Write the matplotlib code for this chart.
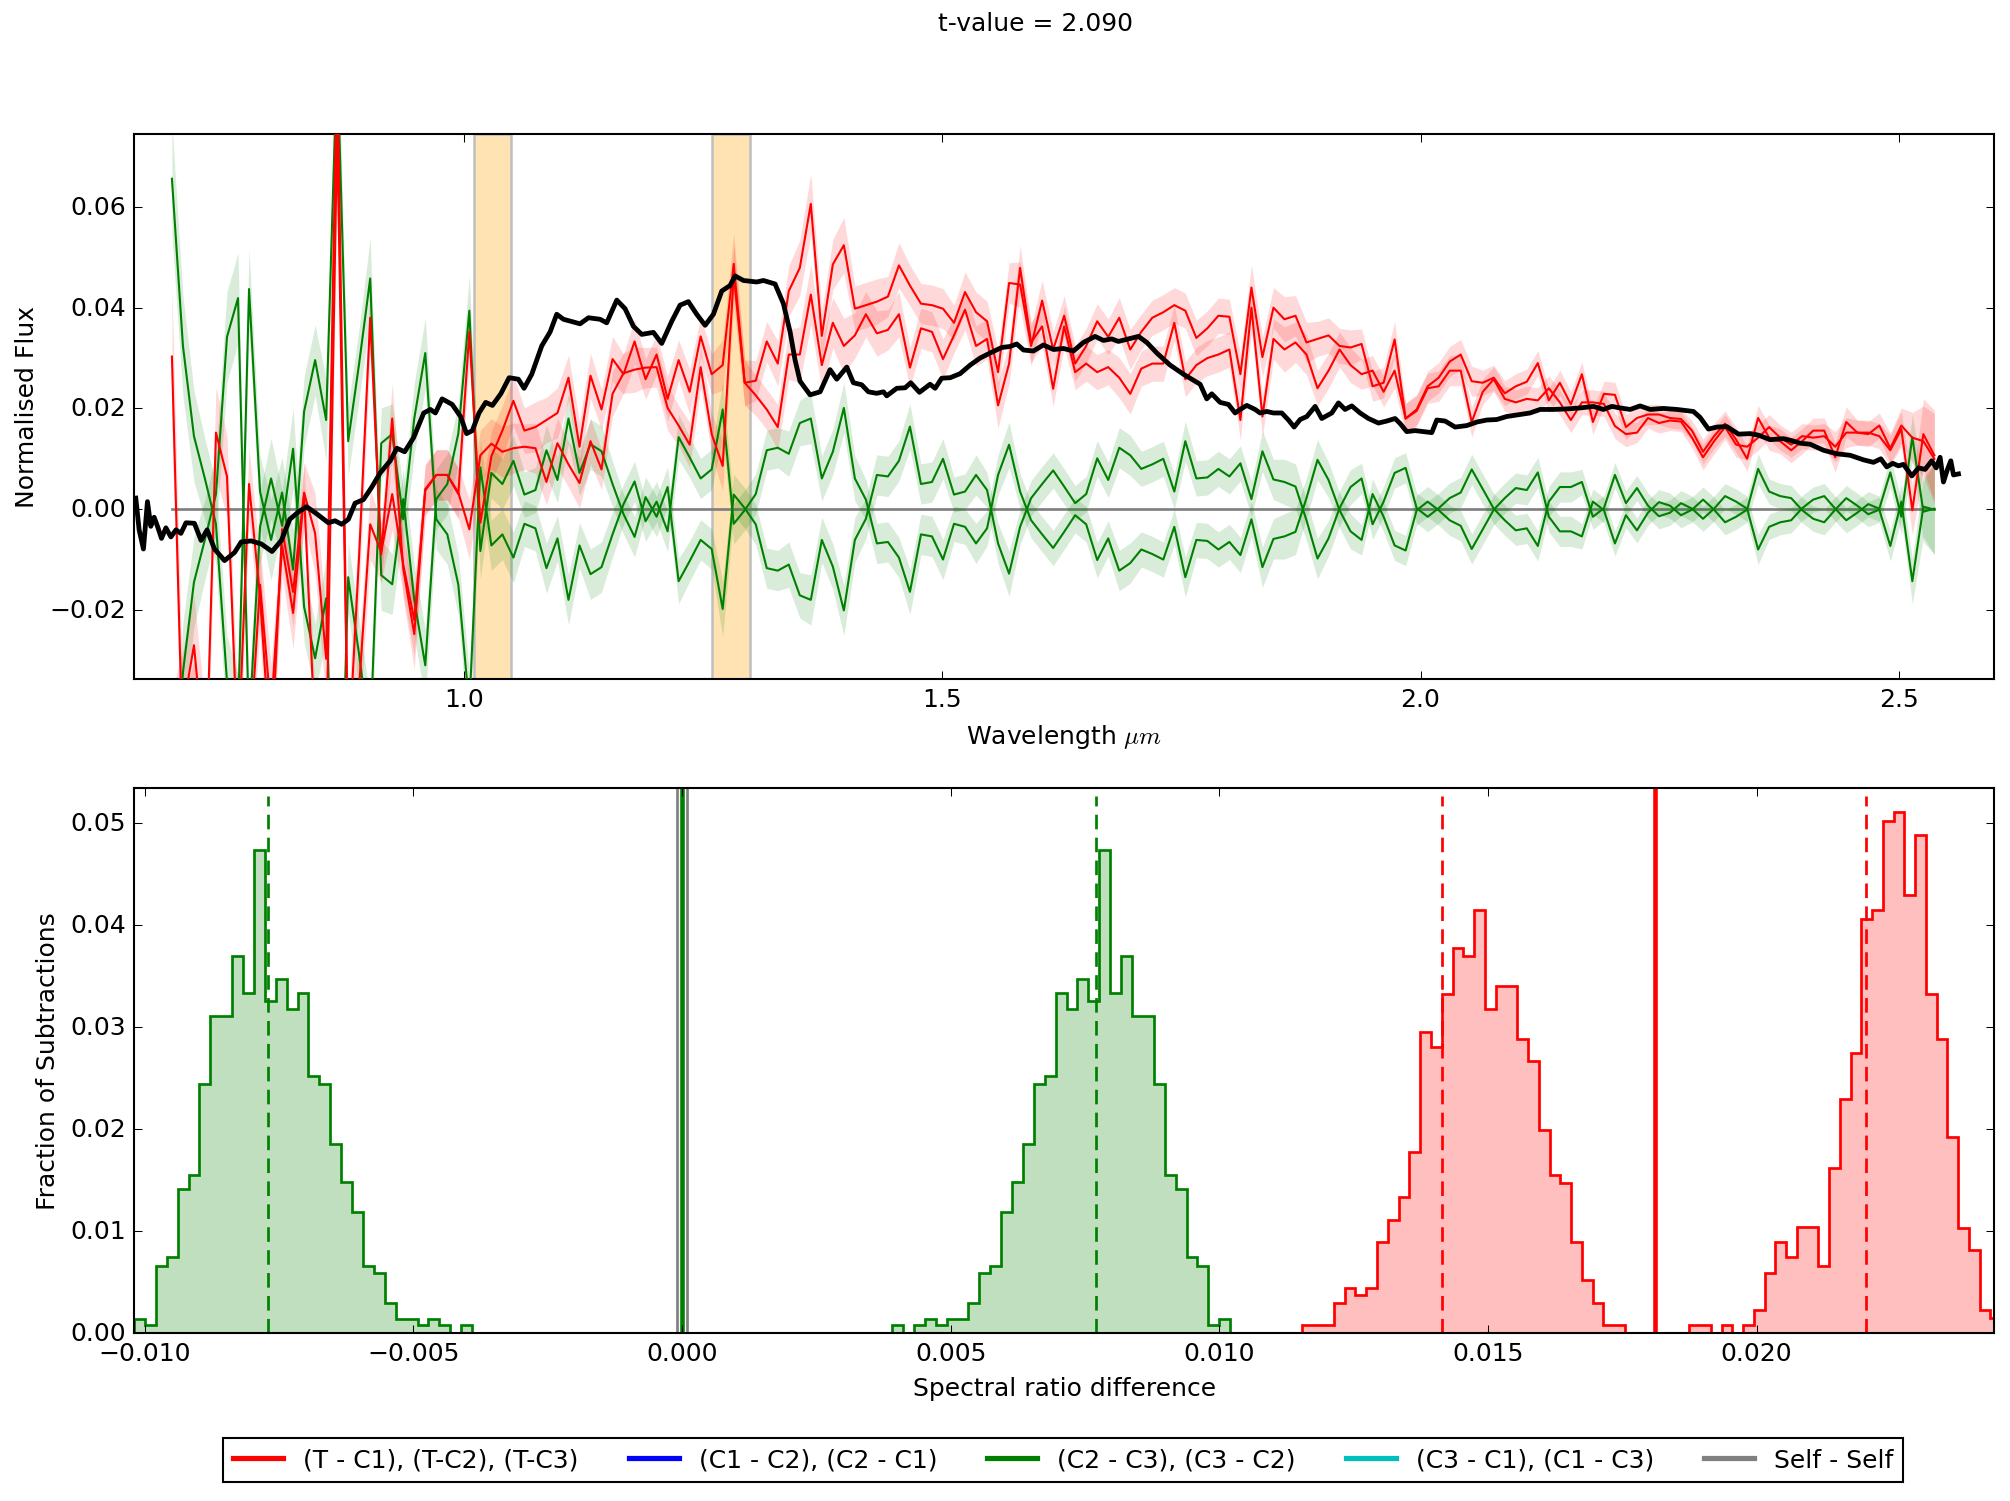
import matplotlib
matplotlib.use("Agg")
import matplotlib.pyplot as plt
import numpy as np
from matplotlib.lines import Line2D

plt.style.use("classic")
plt.rcParams["font.family"] = ["DejaVu Sans"]
plt.rcParams["figure.facecolor"] = "white"

# ---- top panel: binned spectral ratio differences ----
bin_first, bin_last, n_bins = 0.694, 2.5375, 161
wl = np.linspace(bin_first, bin_last, n_bins)

# T - C differences (two visible series)
tc_a = [0.0303, -0.0500, -0.0400, -0.0600, 0.0152, 0.0065, -0.0500, 0.0050, -0.0174, -0.0500,
        -0.0040, -0.0164, 0.0033, -0.0048, -0.0297, 0.0900, -0.0500, -0.0090, 0.0380, -0.0090,
        0.0180, -0.0118, -0.0248, 0.0040, 0.0068, 0.0068, 0.0030, 0.0352, -0.0027, 0.0105, 0.0156,
        0.0215, 0.0156, 0.0163, 0.0177, 0.0191, 0.0261, 0.0124, 0.0265, 0.0198, 0.0298,
        0.0268, 0.0333, 0.0258, 0.0307, 0.0219, 0.0296, 0.0233, 0.0343, 0.0268, 0.0286,
        0.0487, 0.0251, 0.0255, 0.0333, 0.0289, 0.0433, 0.0479, 0.0606, 0.0344, 0.0486,
        0.0524, 0.0398, 0.0405,
        0.0412, 0.0422, 0.0484, 0.0444, 0.0408, 0.0405, 0.0398, 0.0370, 0.0431, 0.0391,
        0.0373, 0.0272, 0.0449, 0.0446, 0.0324, 0.0414, 0.0317, 0.0384, 0.0289, 0.0324,
        0.0373, 0.0342, 0.0380, 0.0317, 0.0352, 0.0380, 0.0391, 0.0405, 0.0394, 0.0340,
        0.0359, 0.0384, 0.0382, 0.0268, 0.0440,
        0.0302, 0.0400, 0.0377, 0.0384, 0.0331, 0.0338, 0.0345, 0.0324, 0.0321, 0.0328,
        0.0244, 0.0251, 0.0337, 0.0180, 0.0198, 0.0244, 0.0261, 0.0293, 0.0307, 0.0254,
        0.0251, 0.0261, 0.0230, 0.0244, 0.0253, 0.0290, 0.0216, 0.0251, 0.0208, 0.0268,
        0.0173, 0.0229, 0.0227,
        0.0163, 0.0181, 0.0188, 0.0188, 0.0181, 0.0179, 0.0156, 0.0114, 0.0145, 0.0170,
        0.0138, 0.0100, 0.0181, 0.0142, 0.0135, 0.0117, 0.0135, 0.0156, 0.0156, 0.0103,
        0.0173, 0.0152, 0.0152, 0.0145, 0.0117, 0.0159, -0.0002, 0.0149, 0.0107]
tc_b = [-0.0500, -0.0400, -0.0270, -0.0500, -0.0450, -0.0600, -0.0400, -0.0500, -0.0150, -0.0400,
        -0.0072, -0.0206, 0.0028, -0.0450, -0.0500, 0.0750, -0.0500, -0.0350, -0.0030, -0.0085,
        0.0030, -0.0110, -0.0220, 0.0037, 0.0068, 0.0068, 0.0033, -0.0040, 0.0107, 0.0130, 0.0114,
        0.0121, 0.0124, 0.0121, 0.0054, 0.0131, 0.0089, 0.0052, 0.0135, 0.0079, 0.0229,
        0.0270, 0.0277, 0.0281, 0.0282, 0.0201, 0.0166, 0.0128, 0.0282, 0.0149, 0.0086,
        0.0465, 0.0251, 0.0226, 0.0198, 0.0163, 0.0307, 0.0307, 0.0426, 0.0286, 0.0370,
        0.0324, 0.0345, 0.0387,
        0.0349, 0.0356, 0.0387, 0.0281, 0.0359, 0.0352, 0.0298, 0.0345, 0.0396, 0.0324,
        0.0338, 0.0206, 0.0289, 0.0479, 0.0331, 0.0363, 0.0239, 0.0363, 0.0272, 0.0289,
        0.0272, 0.0282, 0.0261, 0.0229, 0.0279, 0.0289, 0.0289, 0.0370, 0.0258, 0.0286,
        0.0300, 0.0307, 0.0317, 0.0177, 0.0400,
        0.0184, 0.0338, 0.0317, 0.0331, 0.0307, 0.0240, 0.0275, 0.0317, 0.0286, 0.0268,
        0.0275, 0.0233, 0.0275, 0.0180, 0.0195, 0.0240, 0.0244, 0.0275, 0.0275, 0.0173,
        0.0233, 0.0258, 0.0219, 0.0212, 0.0219, 0.0216, 0.0240, 0.0212, 0.0177, 0.0212,
        0.0212, 0.0209, 0.0165,
        0.0149, 0.0152, 0.0181, 0.0171, 0.0176, 0.0174, 0.0142, 0.0103, 0.0135, 0.0163,
        0.0128, 0.0124, 0.0142, 0.0163, 0.0142, 0.0128, 0.0145, 0.0142, 0.0145, 0.0124,
        0.0152, 0.0152, 0.0149, 0.0166, 0.0121, 0.0166, 0.0142, 0.0135, 0.0100]
tc_err = [0.0140, 0.0120, 0.0100, 0.0110, 0.0090, 0.0080, 0.0100, 0.0070, 0.0080, 0.0090,
          0.0060, 0.0070, 0.0060, 0.0080, 0.0090, 0.0120, 0.0100, 0.0080, 0.0070, 0.0060,
          0.0070, 0.0060, 0.0070, 0.0050, 0.0050, 0.0050, 0.0050, 0.0060, 0.0050, 0.0050, 0.0050,
          0.0050, 0.0045, 0.0050, 0.0045, 0.0050, 0.0045, 0.0050, 0.0045, 0.0040, 0.0045,
          0.0040, 0.0045, 0.0040, 0.0040, 0.0045, 0.0040, 0.0045, 0.0040, 0.0040, 0.0050,
          0.0060, 0.0045, 0.0040, 0.0040, 0.0045, 0.0050, 0.0055, 0.0060, 0.0050, 0.0050,
          0.0055, 0.0045, 0.0045,
          0.0045, 0.0040, 0.0045, 0.0040, 0.0040, 0.0040, 0.0040, 0.0035, 0.0040, 0.0040,
          0.0040, 0.0045, 0.0040, 0.0045, 0.0040, 0.0040, 0.0035, 0.0040, 0.0035, 0.0035,
          0.0035, 0.0035, 0.0040, 0.0040, 0.0035, 0.0035, 0.0035, 0.0035, 0.0035, 0.0035,
          0.0035, 0.0035, 0.0035, 0.0040, 0.0045,
          0.0040, 0.0040, 0.0045, 0.0040, 0.0040, 0.0035, 0.0035, 0.0035, 0.0035, 0.0030,
          0.0030, 0.0030, 0.0035, 0.0030, 0.0030, 0.0030, 0.0030, 0.0030, 0.0030, 0.0030,
          0.0025, 0.0025, 0.0025, 0.0025, 0.0025, 0.0025, 0.0025, 0.0025, 0.0025, 0.0025,
          0.0025, 0.0025, 0.0025,
          0.0025, 0.0020, 0.0020, 0.0020, 0.0020, 0.0020, 0.0020, 0.0025, 0.0025, 0.0025,
          0.0025, 0.0025, 0.0025, 0.0025, 0.0025, 0.0025, 0.0025, 0.0025, 0.0025, 0.0030,
          0.0030, 0.0025, 0.0025, 0.0025, 0.0030, 0.0035, 0.0050, 0.0070, 0.0090]

# C2 - C3 (C3 - C2 is its mirror)
cc_23 = [0.0656, 0.0324, 0.0145, 0.0060, -0.0030, -0.0342, -0.0419, 0.0437, 0.0035, -0.0061,
         0.0033, -0.0120, 0.0194, 0.0296, 0.0177, 0.0900, 0.0135, 0.0290, 0.0458, -0.0131,
         -0.0149, 0.0020, -0.0180, -0.0310, 0.0020, 0.0050, 0.0150, 0.0394, -0.0083, 0.0072, 0.0050,
         0.0096, 0.0029, 0.0038, 0.0117, 0.0058, 0.0180, 0.0072, 0.0129, 0.0115, 0.0050,
         -0.0010, -0.0055, 0.0024, -0.0015, 0.0044, -0.0143, -0.0103, -0.0061, -0.0079, -0.0198,
         0.0029, 0.0002, -0.0030, -0.0117, -0.0122, -0.0110, -0.0171, -0.0180, -0.0061, -0.0114,
         -0.0201, -0.0061, -0.0019,
         0.0068, 0.0065, 0.0096, 0.0164, 0.0050, 0.0054, 0.0100, 0.0029, 0.0035, 0.0068,
         0.0038, -0.0068, -0.0128, -0.0035, 0.0022, 0.0050, 0.0077, 0.0045, 0.0012, 0.0030,
         0.0101, 0.0058, 0.0122, 0.0107, 0.0080, 0.0089, 0.0100, 0.0035, 0.0135, 0.0061,
         0.0063, 0.0080, 0.0065, 0.0091, 0.0020,
         0.0115, 0.0059, 0.0054, 0.0045, -0.0022, -0.0098, -0.0058, 0.0002, 0.0044, 0.0061,
         -0.0030, 0.0015, 0.0072, 0.0082, 0.0002, -0.0015, 0.0002, 0.0022, 0.0033, 0.0079,
         0.0040, 0.0001, -0.0022, -0.0042, -0.0038, -0.0073, 0.0015, 0.0044, 0.0044, 0.0054,
         -0.0015, 0.0002, 0.0068,
         0.0012, 0.0042, 0.0007, -0.0014, -0.0007, 0.0012, 0.0001, -0.0019, 0.0001, 0.0026,
         0.0015, 0.0001, -0.0080, -0.0035, -0.0026, -0.0022, 0.0002, 0.0019, 0.0026, 0.0001,
         -0.0022, -0.0007, 0.0010, 0.0001, 0.0073, -0.0015, 0.0143, -0.0005, 0.0001]
cc_err = [0.0110, 0.0100, 0.0090, 0.0080, 0.0080, 0.0090, 0.0090, 0.0080, 0.0070, 0.0080,
          0.0070, 0.0080, 0.0070, 0.0070, 0.0080, 0.0100, 0.0070, 0.0070, 0.0080, 0.0070,
          0.0060, 0.0060, 0.0070, 0.0070, 0.0060, 0.0060, 0.0060, 0.0070, 0.0055, 0.0050, 0.0050,
          0.0050, 0.0045, 0.0045, 0.0050, 0.0045, 0.0050, 0.0045, 0.0050, 0.0050, 0.0045,
          0.0040, 0.0040, 0.0040, 0.0040, 0.0040, 0.0045, 0.0040, 0.0040, 0.0040, 0.0055,
          0.0040, 0.0040, 0.0040, 0.0040, 0.0040, 0.0045, 0.0045, 0.0050, 0.0045, 0.0045,
          0.0050, 0.0045, 0.0040,
          0.0040, 0.0040, 0.0040, 0.0045, 0.0040, 0.0040, 0.0040, 0.0035, 0.0035, 0.0040,
          0.0035, 0.0040, 0.0045, 0.0035, 0.0035, 0.0035, 0.0035, 0.0035, 0.0035, 0.0035,
          0.0035, 0.0035, 0.0040, 0.0040, 0.0035, 0.0035, 0.0035, 0.0035, 0.0040, 0.0035,
          0.0035, 0.0035, 0.0035, 0.0035, 0.0035,
          0.0040, 0.0040, 0.0045, 0.0045, 0.0040, 0.0040, 0.0035, 0.0035, 0.0035, 0.0030,
          0.0030, 0.0030, 0.0030, 0.0030, 0.0030, 0.0030, 0.0030, 0.0030, 0.0030, 0.0030,
          0.0030, 0.0030, 0.0030, 0.0030, 0.0030, 0.0030, 0.0030, 0.0030, 0.0030, 0.0025,
          0.0025, 0.0025, 0.0025,
          0.0025, 0.0025, 0.0025, 0.0025, 0.0025, 0.0025, 0.0025, 0.0025, 0.0025, 0.0025,
          0.0025, 0.0025, 0.0030, 0.0025, 0.0025, 0.0025, 0.0025, 0.0025, 0.0025, 0.0025,
          0.0025, 0.0025, 0.0025, 0.0025, 0.0030, 0.0035, 0.0045, 0.0060, 0.0090]
self_diff = np.zeros(n_bins)   # self - self is identically zero

# reference target spectrum (black)
ref_wl = [0.6562, 0.6597, 0.6642, 0.6684, 0.6719, 0.6754, 0.6789, 0.6831, 0.6877, 0.6929,
          0.6982, 0.7034, 0.7087, 0.7175, 0.7245, 0.7308, 0.7385, 0.7490, 0.7595, 0.7665,
          0.7770, 0.7875, 0.7987, 0.8085, 0.8173, 0.8260, 0.8348, 0.8453, 0.8576, 0.8646,
          0.8716, 0.8786, 0.8856, 0.8943, 0.9031, 0.9118, 0.9223, 0.9293, 0.9374, 0.9468,
          0.9574, 0.9644, 0.9696, 0.9766, 0.9871, 0.9959, 1.0022, 1.0082, 1.0152, 1.0222,
          1.0292, 1.0380, 1.0467, 1.0564, 1.0623, 1.0704, 1.0808, 1.0896, 1.0965, 1.1035,
          1.1209, 1.1297, 1.1418, 1.1488, 1.1593, 1.1680, 1.1767, 1.1854, 1.1976, 1.2063,
          1.2168, 1.2255, 1.2342, 1.2429, 1.2517, 1.2604, 1.2691, 1.2778, 1.2831, 1.2918,
          1.3057, 1.3127, 1.3249, 1.3336, 1.3406, 1.3458, 1.3510, 1.3615, 1.3720, 1.3824,
          1.3894, 1.3999, 1.4068, 1.4155, 1.4225, 1.4312, 1.4382, 1.4417, 1.4522, 1.4609,
          1.4668, 1.4759, 1.4870, 1.4923, 1.4992, 1.5080, 1.5184, 1.5289, 1.5393, 1.5498,
          1.5620, 1.5707, 1.5777, 1.5847, 1.5951, 1.6056, 1.6161, 1.6265, 1.6370, 1.6474,
          1.6596, 1.6683, 1.6770, 1.6840, 1.6945, 1.7050, 1.7137, 1.7242, 1.7381, 1.7520,
          1.7608, 1.7695, 1.7764, 1.7817, 1.7904, 1.7991, 1.8061, 1.8113, 1.8183, 1.8270,
          1.8322, 1.8392, 1.8462, 1.8549, 1.8619, 1.8678, 1.8741, 1.8811, 1.8898, 1.8967,
          1.9072, 1.9142, 1.9211, 1.9281, 1.9368, 1.9456, 1.9560, 1.9647, 1.9734, 1.9787,
          1.9856, 1.9943, 2.0030, 2.0118, 2.0170, 2.0257, 2.0362, 2.0484, 2.0589, 2.0693,
          2.0798, 2.0902, 2.1007, 2.1146, 2.1251, 2.1390, 2.1530, 2.1669, 2.1809, 2.1913,
          2.2001, 2.2088, 2.2193, 2.2297, 2.2402, 2.2541, 2.2681, 2.2855, 2.2925, 2.3012,
          2.3099, 2.3204, 2.3326, 2.3448, 2.3535, 2.3657, 2.3797, 2.3884, 2.3971, 2.4075,
          2.4215, 2.4354, 2.4494, 2.4633, 2.4738, 2.4815, 2.4877, 2.4940, 2.4999, 2.5052,
          2.5139, 2.5209, 2.5278, 2.5348, 2.5394, 2.5435, 2.5470, 2.5512, 2.5547, 2.5575,
          2.5627]
ref_flux = [0.0022, -0.0041, -0.0079, 0.0015, -0.0034, -0.0016, -0.0034, -0.0058, -0.0037, -0.0055,
            -0.0041, -0.0048, -0.0027, -0.0028, -0.0062, -0.0041, -0.0079, -0.0102, -0.0086, -0.0065,
            -0.0063, -0.0069, -0.0084, -0.0062, -0.0020, -0.0006, 0.0005, -0.0009, -0.0027, -0.0023,
            -0.0030, -0.0020, 0.0012, 0.0019, 0.0044, 0.0072, 0.0096, 0.0121, 0.0114, 0.0142,
            0.0191, 0.0198, 0.0191, 0.0219, 0.0208, 0.0184, 0.0150, 0.0156, 0.0191, 0.0212,
            0.0206, 0.0229, 0.0261, 0.0258, 0.0240, 0.0268, 0.0324, 0.0352, 0.0387, 0.0377,
            0.0368, 0.0380, 0.0377, 0.0370, 0.0415, 0.0398, 0.0363, 0.0347, 0.0351, 0.0329,
            0.0373, 0.0405, 0.0412, 0.0387, 0.0365, 0.0387, 0.0433, 0.0444, 0.0463, 0.0454,
            0.0451, 0.0454, 0.0447, 0.0408, 0.0352, 0.0296, 0.0254, 0.0227, 0.0233, 0.0277,
            0.0258, 0.0282, 0.0251, 0.0247, 0.0233, 0.0230, 0.0233, 0.0225, 0.0240, 0.0241,
            0.0251, 0.0232, 0.0248, 0.0240, 0.0260, 0.0261, 0.0269, 0.0286, 0.0300, 0.0310,
            0.0321, 0.0323, 0.0328, 0.0316, 0.0314, 0.0326, 0.0317, 0.0319, 0.0314, 0.0331,
            0.0343, 0.0335, 0.0338, 0.0333, 0.0338, 0.0343, 0.0331, 0.0310, 0.0286, 0.0268,
            0.0258, 0.0248, 0.0219, 0.0229, 0.0212, 0.0208, 0.0191, 0.0198, 0.0206, 0.0198,
            0.0191, 0.0194, 0.0191, 0.0191, 0.0177, 0.0163, 0.0178, 0.0184, 0.0204, 0.0180,
            0.0191, 0.0211, 0.0198, 0.0205, 0.0191, 0.0180, 0.0171, 0.0175, 0.0180, 0.0170,
            0.0154, 0.0156, 0.0154, 0.0152, 0.0177, 0.0175, 0.0163, 0.0166, 0.0173, 0.0177,
            0.0178, 0.0184, 0.0187, 0.0191, 0.0198, 0.0198, 0.0199, 0.0201, 0.0204, 0.0198,
            0.0204, 0.0201, 0.0198, 0.0205, 0.0198, 0.0200, 0.0198, 0.0194, 0.0182, 0.0159,
            0.0163, 0.0164, 0.0149, 0.0150, 0.0147, 0.0138, 0.0140, 0.0136, 0.0131, 0.0129,
            0.0117, 0.0110, 0.0107, 0.0098, 0.0093, 0.0100, 0.0084, 0.0091, 0.0086, 0.0089,
            0.0066, 0.0082, 0.0079, 0.0096, 0.0082, 0.0103, 0.0054, 0.0079, 0.0096, 0.0068,
            0.0070]

masked = [(1.010, 1.049), (1.259, 1.299)]

# ---- bottom panel: histograms of spectral ratio differences ----
hist_c23 = [0.0014, 0.0008, 0.0066, 0.0074, 0.0141, 0.0155, 0.0244, 0.0310, 0.0310, 0.0369,
            0.0333, 0.0473, 0.0325, 0.0347, 0.0317, 0.0333, 0.0252, 0.0244, 0.0185, 0.0148,
            0.0118, 0.0066, 0.0059, 0.0029, 0.0014, 0.0014, 0.0008, 0.0014, 0.0008, 0.0000, 0.0008]
c23_range = (-0.01020, -0.00391)
hist_tc_a = [0.0008, 0.0008, 0.0008, 0.0029, 0.0044, 0.0037, 0.0044, 0.0089, 0.0111, 0.0133,
             0.0177, 0.0295, 0.0280, 0.0332, 0.0377, 0.0369, 0.0414, 0.0317, 0.0340, 0.0340,
             0.0288, 0.0266, 0.0199, 0.0155, 0.0147, 0.0089, 0.0052, 0.0029, 0.0008, 0.0008]
tc_a_range = (0.01153, 0.01755)
hist_tc_b = [0.0008, 0.0008, 0.0000, 0.0008, 0.0000, 0.0008, 0.0022, 0.0059, 0.0089, 0.0074,
             0.0104, 0.0104, 0.0066, 0.0162, 0.0229, 0.0274, 0.0406, 0.0414, 0.0502, 0.0510,
             0.0429, 0.0488, 0.0332, 0.0288, 0.0192, 0.0103, 0.0081, 0.0022, 0.0015]
tc_b_range = (0.01875, 0.02455)
hist_self = [1.0]
self_range = (-0.0001, 0.0001)

c23_mean = 0.0077
tc_means = [0.01415, 0.02203]
tc_observed = 0.0181
cc_observed = 0.0
t_value = 2.090

legend_labels = ["(T - C1), (T-C2), (T-C3)", "(C1 - C2), (C2 - C1)",
                 "(C2 - C3), (C3 - C2)", "(C3 - C1), (C1 - C3)", "Self - Self"]
legend_colors = ["r", "b", "g", "c", "grey"]

fig = plt.figure(figsize=(13.4, 10.0133), dpi=150)
ax1 = fig.add_axes([0.0667, 0.5473, 0.9254, 0.3629])
ax2 = fig.add_axes([0.0667, 0.1119, 0.9254, 0.3629])

tc_err = np.array(tc_err)
cc_err = np.array(cc_err)
for lo, hi in masked:
    ax1.axvspan(lo, hi, facecolor=(1.0, 0.647, 0.0, 0.3), edgecolor="0.75", lw=1.2, zorder=0)
ax1.plot(wl, self_diff, color="grey", lw=1.3, zorder=1)
for s in (1, -1):
    y = s * np.array(cc_23)
    ax1.fill_between(wl, y - cc_err, y + cc_err, color="g", alpha=0.15, lw=0, zorder=2)
    ax1.plot(wl, y, color="g", lw=1.0, zorder=3)
for y in (np.array(tc_a), np.array(tc_b)):
    ax1.fill_between(wl, y - tc_err, y + tc_err, color="r", alpha=0.15, lw=0, zorder=2)
    ax1.plot(wl, y, color="r", lw=1.0, zorder=3)
ax1.plot(ref_wl, ref_flux, color="k", lw=2.3, zorder=4)
ax1.set_xlim(0.6544, 2.600)
ax1.set_ylim(-0.0337, 0.0745)
ax1.set_xticks([1.0, 1.5, 2.0, 2.5])
ax1.set_yticks([-0.02, 0.0, 0.02, 0.04, 0.06])
ax1.set_xlabel(r"Wavelength $\mu m$")
ax1.set_ylabel("Normalised Flux")


def draw_hist(ax, vals, rng, color, mirror=False):
    vals = np.array(vals)
    edges = np.linspace(rng[0], rng[1], len(vals) + 1)
    if mirror:
        vals, edges = vals[::-1], -edges[::-1]
    ax.stairs(vals, edges, fill=True, color=color, alpha=0.25, lw=0)
    ax.stairs(vals, edges, color=color, lw=1.3)


draw_hist(ax2, hist_c23, c23_range, "g")
draw_hist(ax2, hist_c23, c23_range, "g", mirror=True)
draw_hist(ax2, hist_tc_a, tc_a_range, "r")
draw_hist(ax2, hist_tc_b, tc_b_range, "r")
ax2.stairs(hist_self, self_range, color="grey", lw=1.3)
ax2.axvline(cc_observed, color="g", lw=2.2)
ax2.axvline(tc_observed, color="r", lw=2.2)
for m in (-c23_mean, c23_mean):
    ax2.axvline(m, color="g", lw=1.3, ls="--", dashes=(7, 4), ymax=0.985)
for m in tc_means:
    ax2.axvline(m, color="r", lw=1.3, ls="--", dashes=(7, 4), ymax=0.985)
ax2.set_xlim(-0.0102, 0.02442)
ax2.set_ylim(0, 0.0534)
ax2.set_xticks([-0.010, -0.005, 0.0, 0.005, 0.010, 0.015, 0.020])
ax2.set_yticks([0.0, 0.01, 0.02, 0.03, 0.04, 0.05])
ax2.set_xlabel("Spectral ratio difference")
ax2.set_ylabel("Fraction of Subtractions")

handles = [Line2D([], [], color=c, lw=2.5) for c in legend_colors]
fig.legend(handles, legend_labels, loc="center", bbox_to_anchor=(0.529, 0.0273),
           ncol=5, fontsize=12, numpoints=1)

fig.text(0.515, 0.9838, "t-value = %.3f" % t_value, ha="center", va="center", fontsize=12)

fig.savefig("out.png", dpi=150, facecolor="white")
